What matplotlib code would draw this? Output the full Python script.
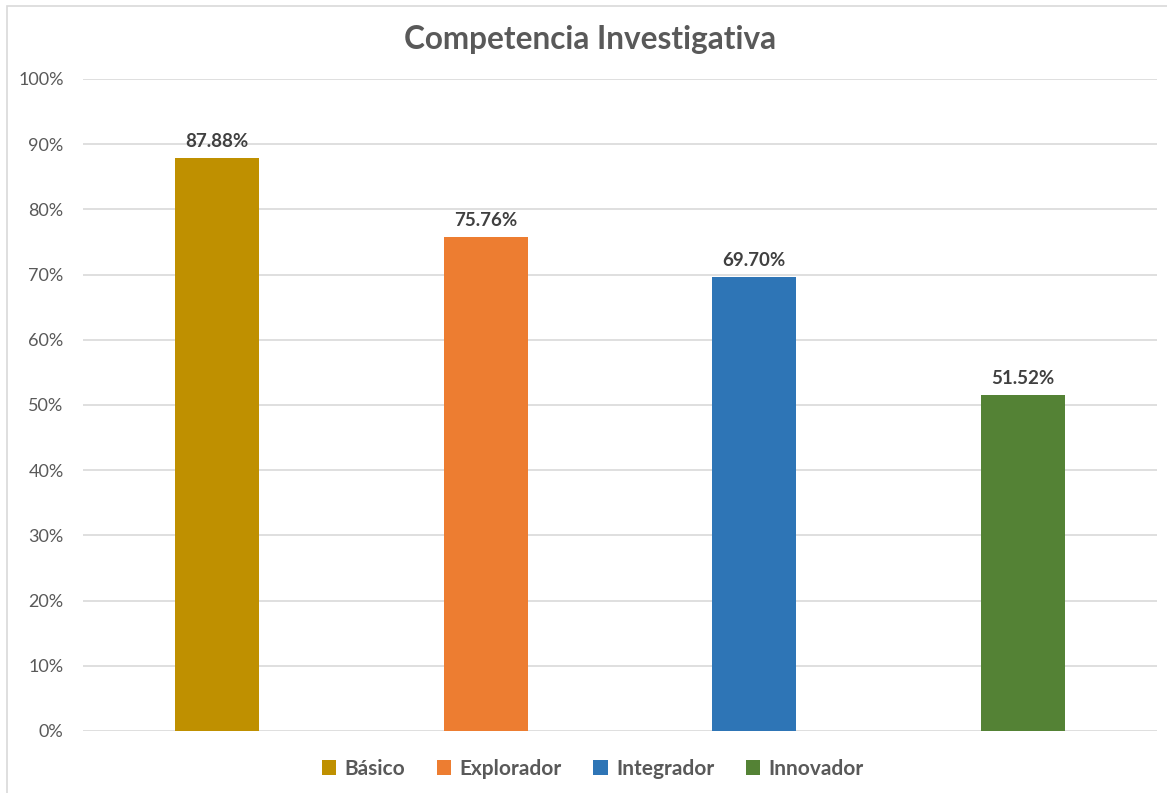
import matplotlib.pyplot as plt
from matplotlib.patches import Rectangle

plt.rcParams['font.family'] = ['Lato', 'DejaVu Sans']

levels = ["Básico", "Explorador", "Integrador", "Innovador"]
values = [87.88, 75.76, 69.70, 51.52]
colors = ["#BF9000", "#ED7D31", "#2E75B6", "#548235"]
yticks = [0, 10, 20, 30, 40, 50, 60, 70, 80, 90, 100]

fig = plt.figure(figsize=(11.67, 7.93), dpi=100)
ax = fig.add_axes([0.0711, 0.0782, 0.9203, 0.8222])

# chart border (cut off right and bottom like the original)
fig.patches.append(Rectangle((7/1167, -0.1), 1.2, 1 - 6/793 + 0.1, transform=fig.transFigure,
                             fill=False, edgecolor="#D9D9D9", linewidth=1.2))

for i, (lvl, v, c) in enumerate(zip(levels, values, colors)):
    ax.bar(i, v, 0.313, color=c, label=lvl, zorder=3)
    ax.text(i, v + 1.2, f"{v:.2f}%", ha="center", va="bottom", fontsize=13.5,
            fontweight="bold", color="#404040")

ax.set_xlim(-0.5, 3.5)
ax.set_ylim(0, 100)
ax.set_yticks(yticks)
ax.set_yticklabels([f"{t}%" for t in yticks], fontsize=13, color="#595959")
ax.set_xticks([])
ax.tick_params(axis="y", length=0, pad=14)
ax.grid(axis="y", color="#D9D9D9", linewidth=1.2, zorder=0)
for s in ax.spines.values():
    s.set_visible(False)

fig.text(590/1167, 1 - 40/793, "Competencia Investigativa", ha="center", va="center",
         fontsize=22.7, fontweight="bold", color="#595959")

fig.legend(loc="center", bbox_to_anchor=(0.508, 1 - 769/793), ncol=4, frameon=False,
           prop={"weight": "bold", "size": 15}, labelcolor="#595959",
           handlelength=0.7, handleheight=0.7, handletextpad=0.4, columnspacing=1.5)

fig.savefig("out.png", dpi=100, facecolor="white")
